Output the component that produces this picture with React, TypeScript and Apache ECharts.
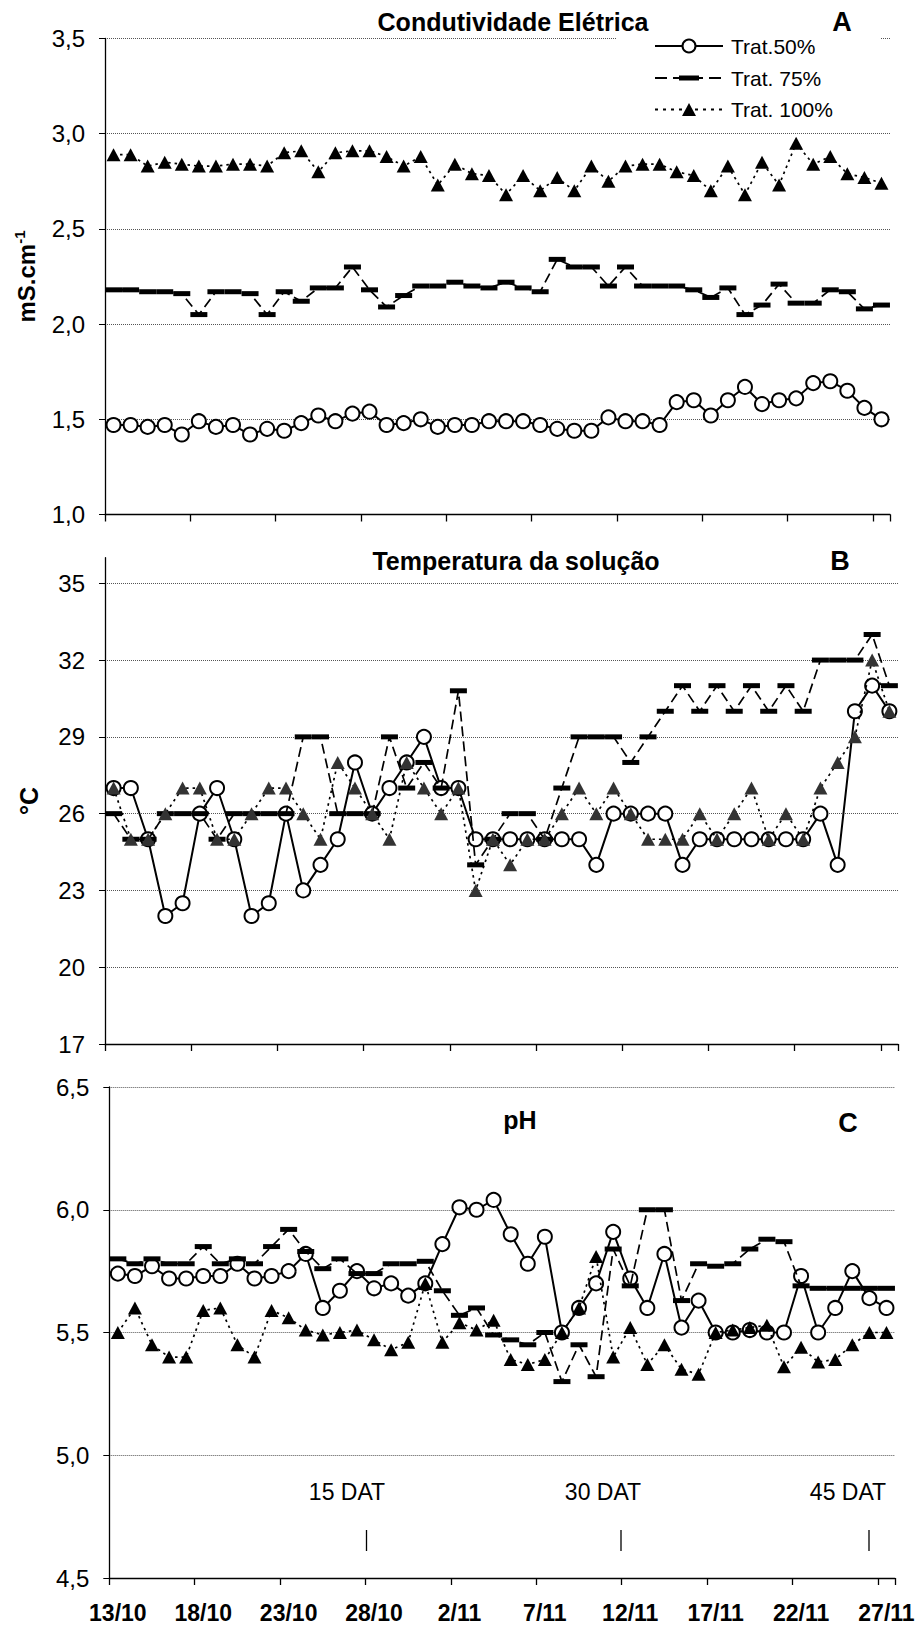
import React, { useEffect, useRef } from "react";
import * as echarts from "echarts";

const FONT = "'Liberation Sans', Arial, Helvetica, sans-serif";

const dates = [
  "13/10", "14/10", "15/10", "16/10", "17/10", "18/10", "19/10", "20/10", "21/10", "22/10",
  "23/10", "24/10", "25/10", "26/10", "27/10", "28/10", "29/10", "30/10", "31/10", "1/11",
  "2/11", "3/11", "4/11", "5/11", "6/11", "7/11", "8/11", "9/11", "10/11", "11/11",
  "12/11", "13/11", "14/11", "15/11", "16/11", "17/11", "18/11", "19/11", "20/11", "21/11",
  "22/11", "23/11", "24/11", "25/11", "26/11", "27/11",
];

const seriesNames = ["Trat.50%", "Trat. 75%", "Trat. 100%"];

// Panel A - Condutividade Elétrica (mS.cm-1)
const ecT50 = [1.47, 1.47, 1.46, 1.47, 1.42, 1.49, 1.46, 1.47, 1.42, 1.45, 1.44, 1.48, 1.52, 1.49, 1.53, 1.54, 1.47, 1.48, 1.5, 1.46, 1.47, 1.47, 1.49, 1.49, 1.49, 1.47, 1.45, 1.44, 1.44, 1.51, 1.49, 1.49, 1.47, 1.59, 1.6, 1.52, 1.6, 1.67, 1.58, 1.6, 1.61, 1.69, 1.7, 1.65, 1.56, 1.5];
const ecT75 = [2.18, 2.18, 2.17, 2.17, 2.16, 2.05, 2.17, 2.17, 2.16, 2.05, 2.17, 2.12, 2.19, 2.19, 2.3, 2.18, 2.09, 2.15, 2.2, 2.2, 2.22, 2.2, 2.19, 2.22, 2.19, 2.17, 2.34, 2.3, 2.3, 2.2, 2.3, 2.2, 2.2, 2.2, 2.18, 2.14, 2.19, 2.05, 2.1, 2.21, 2.11, 2.11, 2.18, 2.17, 2.08, 2.1];
const ecT100 = [2.89, 2.89, 2.83, 2.85, 2.84, 2.83, 2.83, 2.84, 2.84, 2.83, 2.9, 2.91, 2.8, 2.9, 2.91, 2.91, 2.88, 2.83, 2.88, 2.73, 2.84, 2.79, 2.78, 2.68, 2.78, 2.7, 2.77, 2.7, 2.83, 2.75, 2.83, 2.84, 2.84, 2.8, 2.78, 2.7, 2.83, 2.68, 2.85, 2.73, 2.95, 2.84, 2.88, 2.79, 2.77, 2.74];

// Panel B - Temperatura da solução (°C)
const tempT50 = [27, 27, 25, 22, 22.5, 26, 27, 25, 22, 22.5, 26, 23, 24, 25, 28, 26, 27, 28, 29, 27, 27, 25, 25, 25, 25, 25, 25, 25, 24, 26, 26, 26, 26, 24, 25, 25, 25, 25, 25, 25, 25, 26, 24, 30, 31, 30];
const tempT75 = [26, 25, 25, 26, 26, 26, 25, 26, 26, 26, 26, 29, 29, 26, 26, 26, 29, 27, 28, 27, 30.8, 24, 25, 26, 26, 25, 27, 29, 29, 29, 28, 29, 30, 31, 30, 31, 30, 31, 30, 31, 30, 32, 32, 32, 33, 31];
const tempT100 = [27, 25, 25, 26, 27, 27, 25, 25, 26, 27, 27, 26, 25, 28, 27, 26, 25, 28, 27, 26, 27, 23, 25, 24, 25, 25, 26, 27, 26, 27, 26, 25, 25, 25, 26, 25, 26, 27, 25, 26, 25, 27, 28, 29, 32, 30];

// Panel C - pH
const phT50 = [5.74, 5.73, 5.77, 5.72, 5.72, 5.73, 5.73, 5.78, 5.72, 5.73, 5.75, 5.82, 5.6, 5.67, 5.75, 5.68, 5.7, 5.65, 5.7, 5.86, 6.01, 6.0, 6.04, 5.9, 5.78, 5.89, 5.5, 5.6, 5.7, 5.91, 5.72, 5.6, 5.82, 5.52, 5.63, 5.5, 5.5, 5.51, 5.5, 5.5, 5.73, 5.5, 5.6, 5.75, 5.64, 5.6];
const phT75 = [5.8, 5.78, 5.8, 5.78, 5.78, 5.85, 5.78, 5.8, 5.78, 5.85, 5.92, 5.83, 5.76, 5.8, 5.74, 5.74, 5.78, 5.78, 5.79, 5.67, 5.57, 5.6, 5.49, 5.47, 5.45, 5.5, 5.3, 5.45, 5.32, 5.84, 5.69, 6.0, 6.0, 5.63, 5.78, 5.77, 5.78, 5.84, 5.88, 5.87, 5.69, 5.68, 5.68, 5.68, 5.68, 5.68];
const phT100 = [5.5, 5.6, 5.45, 5.4, 5.4, 5.59, 5.6, 5.45, 5.4, 5.59, 5.56, 5.51, 5.49, 5.5, 5.51, 5.47, 5.43, 5.46, 5.7, 5.46, 5.54, 5.51, 5.55, 5.39, 5.37, 5.39, 5.5, 5.6, 5.81, 5.4, 5.52, 5.37, 5.45, 5.35, 5.33, 5.5, 5.51, 5.52, 5.53, 5.36, 5.44, 5.38, 5.39, 5.45, 5.5, 5.5];

const tempTicks = [17, 20, 23, 26, 29, 32, 35];

const panelTitles = ["Condutividade Elétrica", "Temperatura da solução", "pH"];
const panelLetters = ["A", "B", "C"];
const datLabels = ["15 DAT", "30 DAT", "45 DAT"];

const comma = (v: number) => v.toFixed(1).replace(".", ",");

export default function App() {
  const ref = useRef<HTMLDivElement>(null);

  useEffect(() => {
    if (!ref.current) return;
    const chart = echarts.init(ref.current, null, { renderer: "svg" });

    const grids = [
      { left: 105, top: 38.5, width: 785, height: 476 },
      { left: 105, top: 557.7, width: 793, height: 486.3 },
      { left: 109.3, top: 1087, width: 785.7, height: 491 },
    ];

    const gridLine = { show: true, lineStyle: { color: "#555", width: 1, type: [1, 1] as any } };
    const axisLineStyle = { show: true, lineStyle: { color: "#000", width: 1.3 } };
    const yLabel = { color: "#000", fontSize: 24, fontFamily: FONT, margin: 20 };

    const xAxes = grids.map((_, k) => ({
      type: "category",
      gridIndex: k,
      data: dates,
      boundaryGap: true,
      axisLine: axisLineStyle,
      axisTick: { show: true, interval: 4, length: 7, lineStyle: { color: "#000", width: 1.3 } },
      axisLabel:
        k === 2
          ? { show: true, interval: 4, fontSize: 23, fontWeight: "bold", color: "#000", fontFamily: FONT, margin: 23 }
          : { show: false },
      splitLine: { show: false },
    }));

    const yAxes = [
      {
        type: "value", gridIndex: 0, min: 1, max: 3.5, interval: 0.5,
        axisLine: axisLineStyle,
        axisTick: { show: true, length: 6, lineStyle: { color: "#000" } },
        axisLabel: { ...yLabel, formatter: comma },
        splitLine: gridLine,
        name: "{a|mS.cm}{b|-1}",
        nameLocation: "middle", nameRotate: 90, nameGap: 65,
        nameTextStyle: {
          color: "#000", fontFamily: FONT, fontWeight: "bold", fontSize: 24,
          rich: {
            a: { fontSize: 24, fontWeight: "bold", fontFamily: FONT, color: "#000", lineHeight: 28 },
            b: { fontSize: 15, fontWeight: "bold", fontFamily: FONT, color: "#000", lineHeight: 15, verticalAlign: "top" },
          },
        },
      },
      {
        type: "value", gridIndex: 1, min: 17, max: 36,
        axisLine: axisLineStyle,
        axisTick: { show: true, length: 6, lineStyle: { color: "#000" }, customValues: tempTicks },
        axisLabel: { ...yLabel, customValues: tempTicks },
        splitLine: gridLine,
        name: "°C",
        nameLocation: "middle", nameRotate: 90, nameGap: 64,
        nameTextStyle: { color: "#000", fontFamily: FONT, fontWeight: "bold", fontSize: 25 },
      },
      {
        type: "value", gridIndex: 2, min: 4.5, max: 6.5, interval: 0.5,
        axisLine: axisLineStyle,
        axisTick: { show: true, length: 6, lineStyle: { color: "#000" } },
        axisLabel: { ...yLabel, formatter: comma },
        splitLine: gridLine,
      },
    ];

    const panelData = [
      [ecT50, ecT75, ecT100],
      [tempT50, tempT75, tempT100],
      [phT50, phT75, phT100],
    ];

    const style50 = {
      symbol: "circle", symbolSize: 14,
      itemStyle: { color: "#fff", borderColor: "#000", borderWidth: 2 },
      lineStyle: { color: "#000", width: 2 },
    };
    const style75 = {
      symbol: "rect", symbolSize: [17, 5],
      itemStyle: { color: "#000" },
      lineStyle: { color: "#000", width: 1.7, type: [10, 5] },
    };
    const style100 = {
      symbol: "triangle", symbolSize: [14, 13],
      lineStyle: { color: "#000", width: 1.7, type: [2.5, 4] },
    };

    const series: any[] = [];
    panelData.forEach((set, k) => {
      series.push({
        type: "line", name: seriesNames[0], xAxisIndex: k, yAxisIndex: k, data: set[0],
        showAllSymbol: true, ...style50, z: 3,
      });
      series.push({
        type: "line", name: seriesNames[1], xAxisIndex: k, yAxisIndex: k, data: set[1],
        showAllSymbol: true, ...style75, z: 4,
      });
      series.push({
        type: "line", name: seriesNames[2], xAxisIndex: k, yAxisIndex: k, data: set[2],
        showAllSymbol: true, ...style100, itemStyle: { color: k === 1 ? "#333" : "#000" }, z: 5,
      });
    });

    const titleY = [22, 561, 1120];
    const titleX = [513, 516, 520];
    const letterX = [842, 840, 848];
    const letterY = [22, 561, 1123];
    const graphic: any[] = [];
    panelTitles.forEach((t, k) => {
      graphic.push({
        type: "text", x: titleX[k], y: titleY[k], z: 10,
        style: { text: t, fill: "#000", fontFamily: FONT, fontWeight: "bold", fontSize: 25, align: "center", verticalAlign: "middle" },
      });
      graphic.push({
        type: "text", x: letterX[k], y: letterY[k], z: 10,
        style: { text: panelLetters[k], fill: "#000", fontFamily: FONT, fontWeight: "bold", fontSize: 27, align: "center", verticalAlign: "middle" },
      });
    });
    const datTextX = [347, 603, 848];
    const datTickX = [366.5, 621, 869];
    datLabels.forEach((t, k) => {
      graphic.push({
        type: "text", x: datTextX[k], y: 1492, z: 10,
        style: { text: t, fill: "#000", fontFamily: FONT, fontSize: 23, align: "center", verticalAlign: "middle" },
      });
      graphic.push({
        type: "line", z: 10,
        shape: { x1: datTickX[k], y1: 1530, x2: datTickX[k], y2: 1551 },
        style: { stroke: "#000", lineWidth: 1.3 },
      });
    });

    // Legend (drawn as a boxed key in panel A)
    const lgX0 = 655, lgX1 = 723, lgMid = 689, lgText = 731;
    const lgRows = [46, 78, 109.5];
    graphic.push({
      type: "rect", z: 20,
      shape: { x: 617, y: 31, width: 263, height: 96 },
      style: { fill: "#fff", stroke: null },
    });
    const lgDash = [null, [12, 6], [3, 5]];
    lgRows.forEach((y, k) => {
      graphic.push({
        type: "line", z: 21,
        shape: { x1: lgX0, y1: y, x2: lgX1, y2: y },
        style: { stroke: "#000", lineWidth: k === 0 ? 2 : 1.8, lineDash: lgDash[k] },
      });
      graphic.push({
        type: "text", x: lgText, y: y, z: 21,
        style: { text: seriesNames[k], fill: "#000", fontFamily: FONT, fontSize: 21, align: "left", verticalAlign: "middle" },
      });
    });
    graphic.push({
      type: "circle", z: 22,
      shape: { cx: lgMid, cy: lgRows[0], r: 6.5 },
      style: { fill: "#fff", stroke: "#000", lineWidth: 2 },
    });
    graphic.push({
      type: "rect", z: 22,
      shape: { x: lgMid - 10, y: lgRows[1] - 2.5, width: 20, height: 5 },
      style: { fill: "#000" },
    });
    graphic.push({
      type: "polygon", z: 22,
      shape: { points: [[lgMid - 7, lgRows[2] + 6.5], [lgMid + 7, lgRows[2] + 6.5], [lgMid, lgRows[2] - 6.5]] },
      style: { fill: "#000" },
    });

    chart.setOption({
      animation: false,
      backgroundColor: "#fff",
      textStyle: { fontFamily: FONT },
      grid: grids,
      xAxis: xAxes,
      yAxis: yAxes,
      series,
      graphic,
    });

    return () => chart.dispose();
  }, []);

  return (
    <div
      ref={ref}
      style={{ position: "absolute", left: 0, top: 0, width: 923, height: 1627, background: "#fff" }}
    />
  );
}
